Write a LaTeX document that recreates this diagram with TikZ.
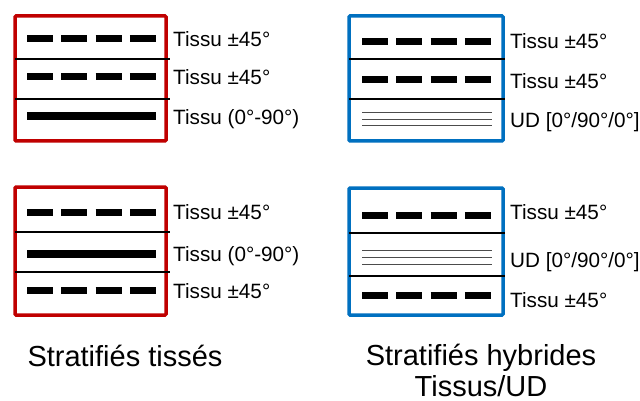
\documentclass[tikz,border=0pt]{standalone}
\usepackage{fontspec}
\setmainfont{Liberation Sans}
\usetikzlibrary{positioning}
\definecolor{CR}{HTML}{C00000}
\definecolor{CB}{HTML}{0070C0}

\tikzset{
  cadre/.style={draw=#1, line width=3.5pt, rounded corners=1pt},
  separ/.style={line width=1.3pt},
  tissu/.style={line width=7pt, dash pattern=on 26pt off 8.33pt},
  plein/.style={line width=8pt},
  udpli/.style={line width=1pt, black!70},
  etiq/.style={anchor=base west, inner sep=0pt, font=\fontsize{20.7}{24}\selectfont},
  titre/.style={anchor=base, align=center, inner sep=0pt, font=\fontsize{29}{31}\selectfont}
}

\begin{document}
\begin{tikzpicture}[x=1pt,y=-1pt]
  \fill[white] (0,0) rectangle (640,401);
  \useasboundingbox (0,0) rectangle (640,401);

  % stratifie tisse, haut
  \draw[cadre=CR] (15,16) rectangle (166,141);
  \draw[separ] (15,59) -- (170,59);
  \draw[separ] (15,99) -- (170,99);
  \draw[tissu] (27,39) -- (156,39);
  \draw[tissu] (27,77) -- (156,77);
  \draw[plein] (27,116) -- (156,116);
  \node[etiq] (a1) at (173,47) {Tissu ±45°};
  \node[etiq] (a2) at (173,85) {Tissu ±45°};
  \node[etiq] (a3) at (173,125) {Tissu (0°-90°)};

  % stratifie tisse, bas
  \draw[cadre=CR] (15,187) rectangle (166,315);
  \draw[separ] (15,232) -- (170,232);
  \draw[separ] (15,272) -- (170,272);
  \draw[tissu] (27,212) -- (156,212);
  \draw[plein] (27,254) -- (156,254);
  \draw[tissu] (27,290) -- (156,290);
  \node[etiq] (b1) at (173,219) {Tissu ±45°};
  \node[etiq] (b2) at (173,261) {Tissu (0°-90°)};
  \node[etiq] (b3) at (173,298) {Tissu ±45°};

  % hybride, haut
  \draw[cadre=CB] (349,16) rectangle (503,141);
  \draw[separ] (349,59) -- (505,59);
  \draw[separ] (349,99) -- (505,99);
  \draw[tissu] (362,42) -- (492,42);
  \draw[tissu] (362,80) -- (492,80);
  \foreach \y in {113,119.5,126}
    \draw[udpli] (362,\y) -- (492,\y);
  \node[etiq] (c1) at (510,49) {Tissu ±45°};
  \node[etiq] (c2) at (510,89) {Tissu ±45°};
  \node[etiq] (c3) at (510,128) {UD [0°/90°/0°]};

  % hybride, bas
  \draw[cadre=CB] (349,188) rectangle (503,315);
  \draw[separ] (349,233) -- (505,233);
  \draw[separ] (349,276) -- (505,276);
  \draw[tissu] (362,215) -- (492,215);
  \foreach \y in {250,257,264}
    \draw[udpli] (362,\y) -- (492,\y);
  \draw[tissu] (362,295) -- (492,295);
  \node[etiq] (d1) at (510,219) {Tissu ±45°};
  \node[etiq] (d2) at (510,267) {UD [0°/90°/0°]};
  \node[etiq] (d3) at (510,307) {Tissu ±45°};

  \node[titre] (t1) at (125,366) {Stratifiés tissés};
  \node[titre] (t2) at (481,396) {Stratifiés hybrides\\Tissus/UD};
\end{tikzpicture}
\end{document}
